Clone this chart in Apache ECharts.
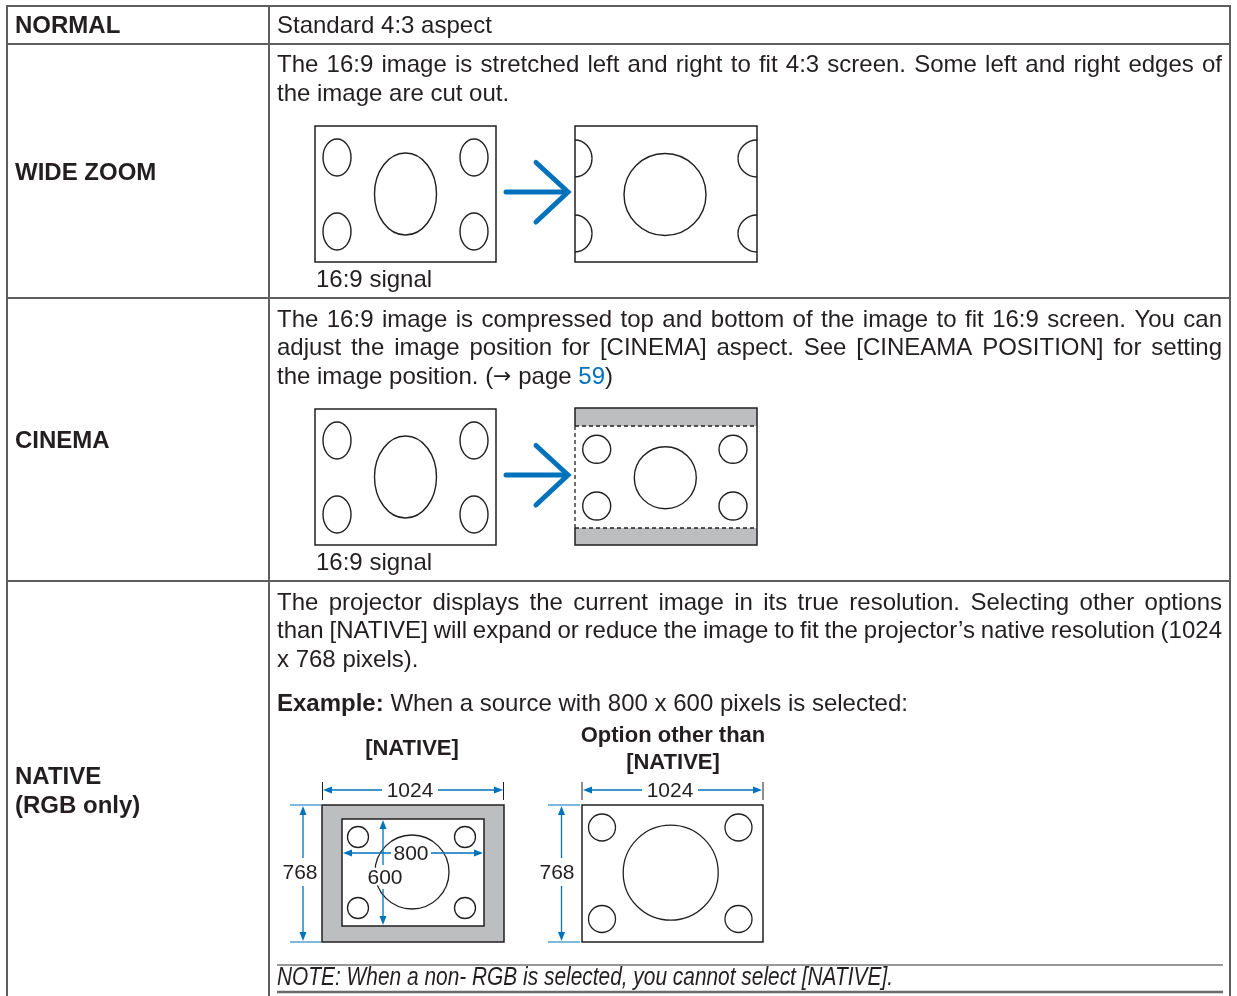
<!DOCTYPE html>
<html><head><meta charset="utf-8">
<script src="https://cdn.jsdelivr.net/npm/echarts@6/dist/echarts.min.js"></script>
<style>html,body{margin:0;padding:0;background:#fff}#main{width:1237px;height:996px}</style>
</head><body><div id="main"></div>
<script>
// ---------------- content (data) ----------------
const rowLabels = [['NORMAL'], ['WIDE ZOOM'], ['CINEMA'], ['NATIVE', '(RGB only)']];
const normalText = ['Standard 4:3 aspect'];
const wideZoomText = [
  'The 16:9 image is stretched left and right to fit 4:3 screen. Some left and right edges of',
  'the image are cut out.'
];
const cinemaText = [
  'The 16:9 image is compressed top and bottom of the image to fit 16:9 screen. You can',
  'adjust the image position for [CINEMA] aspect. See [CINEAMA POSITION] for setting',
  'the image position. ('
];
const cinemaPageRef = ['\u2192', ' page ', '59', ')'];
const nativeText = [
  'The projector displays the current image in its true resolution. Selecting other options',
  'than [NATIVE] will expand or reduce the image to fit the projector\u2019s native resolution (1024',
  'x 768 pixels).'
];
const exampleText = ['Example:', ' When a source with 800 x 600 pixels is selected:'];
const signalLabel = ['16:9 signal'];
const nativeTitles = [['[NATIVE]'], ['Option other than', '[NATIVE]']];
const screenSize = ['1024', '768'];
const sourceSize = ['800', '600'];
const noteText = ['NOTE: When a non- RGB is selected, you cannot select [NATIVE].'];

// ---------------- styles ----------------
const C_TEXT = '#231f20', C_LINE = '#5e5e5e', C_BLUE = '#0072bc', C_GREY = '#bcbec0';
const FONT = '"Liberation Sans", Arial, Helvetica, sans-serif';
const ARROWFONT = '"DejaVu Sans", sans-serif';
const DY = 1; // text vertical nudge
const els = [];
const cv = document.createElement('canvas').getContext('2d');
function measure(t, size, weight, family, fstyle) {
  cv.font = (fstyle || 'normal') + ' ' + (weight || 'normal') + ' ' + size + 'px ' + (family || FONT);
  return cv.measureText(t).width;
}
function txt(x, y, t, o) {
  o = o || {};
  const st = {
    text: t, fill: o.fill || C_TEXT, fontSize: o.size || 24, fontWeight: o.weight || 'normal',
    fontStyle: o.fstyle || 'normal', fontFamily: o.family || FONT,
    align: o.align || 'left', verticalAlign: 'middle'
  };
  if (o.halo) { st.stroke = '#fff'; st.lineWidth = 5; st.strokeFirst = true; }
  const e = { type: 'text', x: x, y: y + DY, z: o.z || 20, style: st };
  if (o.scaleX) e.scaleX = o.scaleX;
  els.push(e);
}
function justified(line, x0, x1, y) {
  const words = line.split(' ');
  const widths = words.map(w => measure(w, 24));
  const total = widths.reduce((a, b) => a + b, 0);
  const gap = (x1 - x0 - total) / (words.length - 1);
  let x = x0;
  words.forEach((w, i) => { txt(x, y, w); x += widths[i] + gap; });
}
function line(x1, y1, x2, y2, o) {
  o = o || {};
  els.push({ type: 'line', z: o.z || 5, shape: { x1, y1, x2, y2 },
    style: { stroke: o.stroke || C_TEXT, lineWidth: o.lw || 1.5, lineDash: o.dash || null, lineCap: o.cap || 'butt' } });
}
function rect(x, y, w, h, o) {
  o = o || {};
  els.push({ type: 'rect', z: o.z || 4, shape: { x, y, width: w, height: h },
    style: { fill: o.fill || 'none', stroke: o.stroke === undefined ? C_TEXT : o.stroke, lineWidth: o.lw || 1.5 } });
}
function ell(cx, cy, rx, ry) {
  els.push({ type: 'ellipse', z: 6, shape: { cx, cy, rx, ry }, style: { fill: 'none', stroke: C_TEXT, lineWidth: 1.4 } });
}
function circ(cx, cy, r, lw) {
  els.push({ type: 'circle', z: 6, shape: { cx, cy, r }, style: { fill: 'none', stroke: C_TEXT, lineWidth: lw || 1.4 } });
}
function halfEll(cx, cy, rx, ry, dir) {
  const k = 0.5523;
  els.push({ type: 'bezierCurve', z: 6, shape: { x1: cx, y1: cy - ry, x2: cx + dir * rx, y2: cy,
    cpx1: cx + dir * k * rx, cpy1: cy - ry, cpx2: cx + dir * rx, cpy2: cy - k * ry }, style: { fill: 'none', stroke: C_TEXT, lineWidth: 1.4 } });
  els.push({ type: 'bezierCurve', z: 6, shape: { x1: cx + dir * rx, y1: cy, x2: cx, y2: cy + ry,
    cpx1: cx + dir * rx, cpy1: cy + k * ry, cpx2: cx + dir * k * rx, cpy2: cy + ry }, style: { fill: 'none', stroke: C_TEXT, lineWidth: 1.4 } });
}
function poly(pts, o) {
  els.push({ type: o.fill ? 'polygon' : 'polyline', z: o.z || 8, shape: { points: pts },
    style: { fill: o.fill || 'none', stroke: o.stroke || 'none', lineWidth: o.lw || 1, lineCap: o.cap || 'butt', lineJoin: o.join || 'miter' } });
}
function bigArrow(x0, y) {
  line(x0, y, x0 + 60, y, { stroke: C_BLUE, lw: 5, cap: 'round', z: 9 });
  poly([[x0 + 30, y - 29.5], [x0 + 62, y], [x0 + 30, y + 30]], { stroke: C_BLUE, lw: 5, cap: 'round', join: 'miter', z: 9 });
}
function headH(x, y, dir) { poly([[x, y], [x - dir * 9, y - 3.5], [x - dir * 9, y + 3.5]], { fill: C_BLUE, z: 9 }); }
function headV(x, y, dir) { poly([[x, y], [x - 3.5, y - dir * 9], [x + 3.5, y - dir * 9]], { fill: C_BLUE, z: 9 }); }
function hDim(x0, x1, y, label, cx, gh) {
  line(x0 + 4, y, cx - gh, y, { stroke: C_BLUE, lw: 1.3, z: 9 });
  line(cx + gh, y, x1 - 4, y, { stroke: C_BLUE, lw: 1.3, z: 9 });
  headH(x0, y, -1); headH(x1, y, 1);
  txt(cx, y, label, { size: 21, align: 'center', halo: true });
}
function vDim(x, y0, y1, label, tx, ty, gh) {
  line(x, y0 + 4, x, ty - gh, { stroke: C_BLUE, lw: 1.3, z: 9 });
  line(x, ty + gh, x, y1 - 4, { stroke: C_BLUE, lw: 1.3, z: 9 });
  headV(x, y0, -1); headV(x, y1, 1);
  txt(tx, ty, label, { size: 21, align: 'center', halo: true });
}

// ---------------- table frame ----------------
const TL = 7, TR = 1230, TT = 6, COL = 269;
const rowTops = [6, 44, 298, 581];
line(TL, TT, TR, TT, { stroke: C_LINE, lw: 2 });
line(TL, TT - 1, TL, 996, { stroke: C_LINE, lw: 2 });
line(TR, TT - 1, TR, 996, { stroke: C_LINE, lw: 2 });
line(COL, TT, COL, 996, { stroke: C_LINE, lw: 2 });
rowTops.slice(1).forEach(y => line(TL, y, TR, y, { stroke: C_LINE, lw: 2 }));

// ---------------- left column labels ----------------
txt(15, 25, rowLabels[0][0], { weight: 'bold' });
txt(15, 172, rowLabels[1][0], { weight: 'bold' });
txt(15, 440, rowLabels[2][0], { weight: 'bold' });
txt(15, 776, rowLabels[3][0], { weight: 'bold' });
txt(15, 805, rowLabels[3][1], { weight: 'bold' });

// ---------------- descriptions ----------------
const X0 = 277, X1 = 1222;
txt(X0, 25, normalText[0]);
justified(wideZoomText[0], X0, X1, 64);
txt(X0, 93, wideZoomText[1]);
justified(cinemaText[0], X0, X1, 319);
justified(cinemaText[1], X0, X1, 347);
let cx3 = X0;
txt(cx3, 376, cinemaText[2]); cx3 += measure(cinemaText[2], 24);
txt(cx3, 376, cinemaPageRef[0], { family: ARROWFONT, size: 22 }); cx3 += measure(cinemaPageRef[0], 22, 'normal', ARROWFONT);
txt(cx3, 376, cinemaPageRef[1]); cx3 += measure(cinemaPageRef[1], 24);
txt(cx3, 376, cinemaPageRef[2], { fill: C_BLUE }); cx3 += measure(cinemaPageRef[2], 24);
txt(cx3, 376, cinemaPageRef[3]);
justified(nativeText[0], X0, X1, 602);
justified(nativeText[1], X0, X1, 630);
txt(X0, 659, nativeText[2]);
txt(X0, 703, exampleText[0], { weight: 'bold' });
txt(X0 + measure(exampleText[0], 24, 'bold'), 703, exampleText[1]);

// ---------------- 16:9 source images ----------------
function sourceImage(ox, oy) {
  rect(ox, oy, 181, 136);
  ell(ox + 22, oy + 31.5, 14, 18.5); ell(ox + 159, oy + 31.5, 14, 18.5);
  ell(ox + 22, oy + 105.5, 14, 18.5); ell(ox + 159, oy + 105.5, 14, 18.5);
  ell(ox + 90.5, oy + 68, 31, 41);
}
sourceImage(315, 126);
txt(316, 279, signalLabel[0]);
sourceImage(315, 409);
txt(316, 562, signalLabel[0]);
bigArrow(506, 192);
bigArrow(506, 475);

// wide zoom result
rect(575, 126, 182, 136);
circ(665, 194.5, 41);
halfEll(575, 158.5, 17, 18.5, 1); halfEll(575, 233.5, 17, 18.5, 1);
halfEll(757, 158.5, 19, 18.5, -1); halfEll(757, 233.5, 19, 18.5, -1);

// cinema result
rect(575, 408, 182, 18, { fill: C_GREY, stroke: 'none', z: 3 });
rect(575, 528, 182, 17, { fill: C_GREY, stroke: 'none', z: 3 });
poly([[575, 426], [575, 408], [757, 408], [757, 545], [575, 545], [575, 528]], { stroke: C_TEXT, lw: 1.5, z: 7 });
line(575, 426, 575, 528, { dash: [4, 3], lw: 1.3, z: 7 });
line(575, 426, 757, 426, { dash: [4, 3], lw: 1.3, z: 7 });
line(575, 528, 757, 528, { dash: [4, 3], lw: 1.3, z: 7 });
[[596.7, 449.3], [733, 449.3], [596.7, 506], [733, 506]].forEach(p => circ(p[0], p[1], 14));
circ(665.3, 477.7, 31);

// ---------------- native examples ----------------
txt(412, 748, nativeTitles[0][0], { size: 22, weight: 'bold', align: 'center' });
txt(673, 735, nativeTitles[1][0], { size: 22, weight: 'bold', align: 'center' });
txt(673, 762, nativeTitles[1][1], { size: 22, weight: 'bold', align: 'center' });

// [NATIVE]
rect(322, 805, 182, 137, { fill: C_GREY });
rect(342, 819, 142, 107, { fill: '#fff', z: 5 });
[[358, 837], [465, 837], [358, 908], [465, 908]].forEach(p => circ(p[0], p[1], 10.5, 1.3));
circ(412, 872, 37, 1.3);
line(322.5, 782, 322.5, 800, { lw: 1 }); line(503.5, 782, 503.5, 800, { lw: 1 });
hDim(323, 503, 790, screenSize[0], 410, 28);
line(290, 805, 321, 805, { stroke: C_BLUE, lw: 1 }); line(290, 942, 321, 942, { stroke: C_BLUE, lw: 1 });
vDim(303, 806, 941, screenSize[1], 300, 872, 14);
hDim(343, 483, 853, sourceSize[0], 411, 20);
vDim(383, 820, 925, sourceSize[1], 385, 877, 12);

// other than [NATIVE]
rect(582, 805, 181, 137, { fill: '#fff' });
[[602, 827.5], [738.5, 827.5], [602, 919], [738.5, 919]].forEach(p => circ(p[0], p[1], 13.5, 1.3));
circ(670.7, 872.7, 47.5, 1.3);
line(582, 782, 582, 800, { lw: 1 }); line(763, 782, 763, 800, { lw: 1 });
hDim(583, 762, 790, screenSize[0], 670, 28);
line(548, 805, 580, 805, { stroke: C_BLUE, lw: 1 }); line(548, 942, 580, 942, { stroke: C_BLUE, lw: 1 });
vDim(561.5, 806, 941, screenSize[1], 557, 872, 14);

// ---------------- note ----------------
line(277, 965, 1223, 965, { stroke: '#333', lw: 1.2 });
line(277, 992, 1223, 992, { stroke: '#6a6a6a', lw: 2.5 });
const noteW = measure(noteText[0], 25, 'normal', FONT, 'italic');
txt(277, 977, noteText[0], { fstyle: 'italic', size: 25, scaleX: 616 / noteW });

const chart = echarts.init(document.getElementById('main'), null, { renderer: 'canvas' });
chart.setOption({ animation: false, graphic: { elements: els } });
</script>
</body></html>
